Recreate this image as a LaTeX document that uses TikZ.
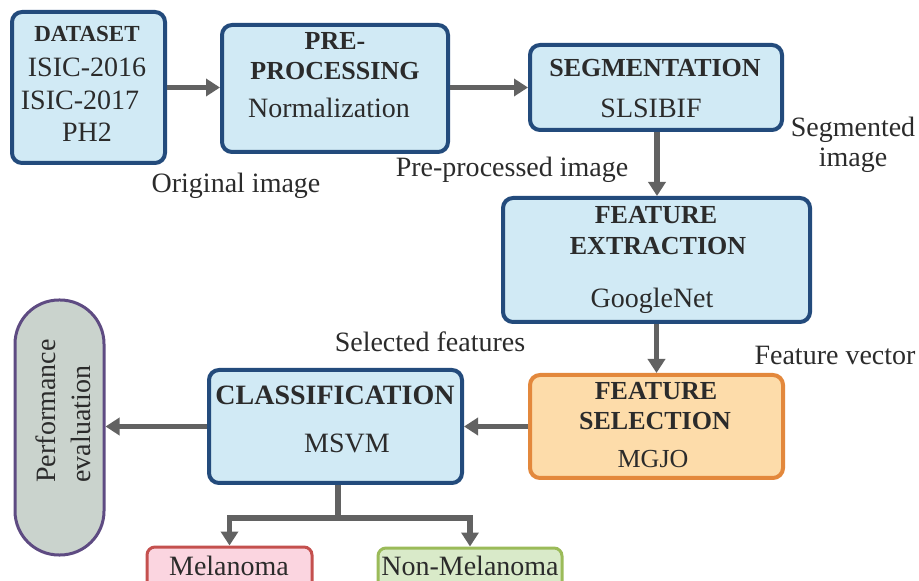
\documentclass[tikz,border=0pt]{standalone}
\usepackage{fontspec}
\setmainfont{Liberation Serif}
\usetikzlibrary{arrows.meta}
\definecolor{boxfill}{HTML}{D1EAF5}
\definecolor{boxdraw}{HTML}{234B7C}
\definecolor{orfill}{HTML}{FDDCAA}
\definecolor{ordraw}{HTML}{E3883C}
\definecolor{pkfill}{HTML}{FBD5E0}
\definecolor{pkdraw}{HTML}{C4504E}
\definecolor{grfill}{HTML}{D9EAC9}
\definecolor{grdraw}{HTML}{9BBB59}
\definecolor{pefill}{HTML}{CAD3CD}
\definecolor{pedraw}{HTML}{5E4B82}
\definecolor{arr}{HTML}{626262}
\definecolor{txt}{HTML}{2B2B2B}
\tikzset{
  box/.style={draw=boxdraw, fill=boxfill, line width=2pt, rounded corners=5pt, inner sep=0pt},
  obox/.style={box, draw=ordraw, fill=orfill},
  pbox/.style={draw=pkdraw, fill=pkfill, line width=1.5pt, rounded corners=4pt, inner sep=0pt},
  gbox/.style={pbox, draw=grdraw, fill=grfill},
  pill/.style={draw=pedraw, fill=pefill, line width=1.5pt, rounded corners=22pt, inner sep=0pt},
  lbl/.style={text=txt, inner sep=0pt, anchor=base, font=\fontsize{14}{16}\selectfont},
  hd/.style={lbl, font=\bfseries\fontsize{13}{15}\selectfont},
  flow/.style={draw=arr, line width=2.8pt, -{Triangle[length=7pt,width=8.5pt]}},
  stem/.style={draw=arr, line width=2.8pt},
}
\begin{document}
\begin{tikzpicture}[x=0.5pt,y=-0.5pt]
\useasboundingbox (0,0) rectangle (919,581);
\clip (0,0) rectangle (919,581);
% boxes
\node[box, minimum width=76.5pt, minimum height=75.5pt] (data) at (88.5,87.5) {};
\node[box, minimum width=113pt, minimum height=63.5pt] (pre) at (335,88.5) {};
\node[box, minimum width=126pt, minimum height=42.5pt] (seg) at (656,87.5) {};
\node[box, minimum width=153.5pt, minimum height=62pt] (fe) at (656.5,260) {};
\node[obox, minimum width=126.5pt, minimum height=51.5pt] (fs) at (656.5,426.5) {};
\node[box, minimum width=126.5pt, minimum height=56.5pt] (cls) at (335.5,426.5) {};
\node[pill, minimum width=44.5pt, minimum height=127.5pt] (perf) at (59.5,427.5) {};
\node[pbox, minimum width=82.5pt, minimum height=22pt] (mel) at (229.5,569) {};
\node[gbox, minimum width=92pt, minimum height=21.5pt] (nonmel) at (470,569.5) {};
% box texts
\node[hd, font=\bfseries\fontsize{11.5}{13}\selectfont] (t1) at (87,42) {DATASET};
\node[lbl] (t2) at (87,77) {ISIC-2016};
\node[lbl] (t3) at (80,110) {ISIC-2017};
\node[lbl] (t4) at (87,142) {PH2};
\node[hd] (t5) at (335,50) {PRE-};
\node[hd] (t6) at (335,80) {PROCESSING};
\node[lbl] (t7) at (329,118) {Normalization};
\node[hd] (t8) at (655,77) {SEGMENTATION};
\node[lbl] (t9) at (651,118) {SLSIBIF};
\node[hd] (t10) at (656,224) {FEATURE};
\node[hd] (t11) at (658,255) {EXTRACTION};
\node[lbl] (t12) at (652,308) {GoogleNet};
\node[hd] (t13) at (656,400) {FEATURE};
\node[hd] (t14) at (655,430) {SELECTION};
\node[lbl, font=\fontsize{13}{15}\selectfont] (t15) at (653,468) {MGJO};
\node[hd, font=\bfseries\fontsize{14}{16}\selectfont] (t16) at (335,405) {CLASSIFICATION};
\node[lbl] (t17) at (347,453) {MSVM};
\node[lbl, rotate=90, anchor=base west] (t18) at (55,483) {Performance};
\node[lbl, rotate=90, anchor=base west] (t19) at (90,483) {evaluation};
\node[lbl] (t20) at (229,575) {Melanoma};
\node[lbl] (t21) at (470,575) {Non-Melanoma};
% edge labels
\node[lbl] (l1) at (236,193) {Original image};
\node[lbl] (l2) at (512,177) {Pre-processed image};
\node[lbl] (l3) at (853,137) {Segmented};
\node[lbl] (l4) at (853,167) {image};
\node[lbl] (l5) at (835,365) {Feature vector};
\node[lbl] (l6) at (430,352) {Selected features};
% connectors
\draw[flow] (data.east) -- (data.east -| pre.west);
\draw[flow] (pre.east |- seg.west) -- (seg.west);
\draw[flow] ([xshift=0.5pt]seg.south) -- ([xshift=0.5pt]seg.south |- fe.north);
\draw[flow] (fe.south) -- (fe.south |- fs.north);
\draw[flow] (fs.west) -- (fs.west -| cls.east);
\draw[flow] (cls.west) -- (cls.west -| perf.east);
\coordinate (j) at (338,518);
\draw[stem] (j |- cls.south) -- (j);
\draw[flow] (j) -| (mel.north);
\draw[flow] (j) -| (nonmel.north);
\end{tikzpicture}
\end{document}
